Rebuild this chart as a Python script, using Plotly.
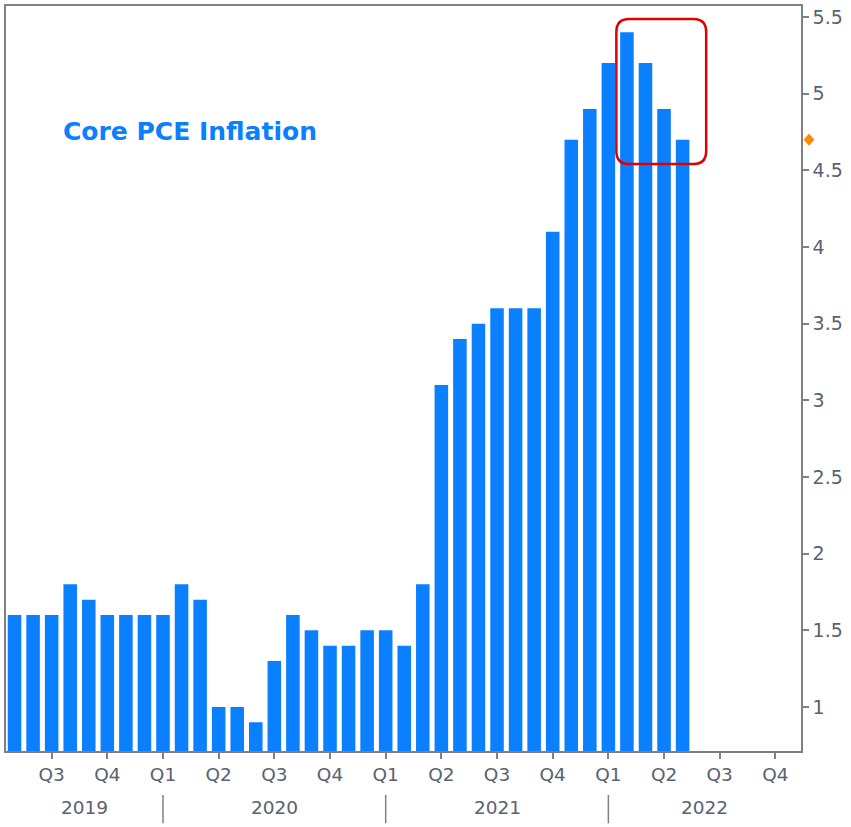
import plotly.graph_objects as go

# ---- data ----
months = ["2019-05", "2019-06", "2019-07", "2019-08", "2019-09", "2019-10", "2019-11", "2019-12",
          "2020-01", "2020-02", "2020-03", "2020-04", "2020-05", "2020-06", "2020-07", "2020-08",
          "2020-09", "2020-10", "2020-11", "2020-12", "2021-01", "2021-02", "2021-03", "2021-04",
          "2021-05", "2021-06", "2021-07", "2021-08", "2021-09", "2021-10", "2021-11", "2021-12",
          "2022-01", "2022-02", "2022-03", "2022-04", "2022-05"]
core_pce = [1.6, 1.6, 1.6, 1.8, 1.7, 1.6, 1.6, 1.6,
            1.6, 1.8, 1.7, 1.0, 1.0, 0.9, 1.3, 1.6,
            1.5, 1.4, 1.4, 1.5, 1.5, 1.4, 1.8, 3.1,
            3.4, 3.5, 3.6, 3.6, 3.6, 4.1, 4.7, 4.9,
            5.2, 5.4, 5.2, 4.9, 4.7]
quarter_labels = ["Q3", "Q4", "Q1", "Q2", "Q3", "Q4", "Q1", "Q2", "Q3", "Q4", "Q1", "Q2", "Q3", "Q4"]
year_labels = ["2019", "2020", "2021", "2022"]
y_ticks = [1, 1.5, 2, 2.5, 3, 3.5, 4, 4.5, 5, 5.5]
title_text = "Core PCE Inflation"

BLUE = "#0a80ff"
GRAY = "#808080"
TXT = "#5a6270"
FONT = "DejaVu Sans"

x_idx = list(range(len(months)))
x_min, x_max = -0.46, 42.38
y_min, y_max = 0.713, 5.572

# quarter tick positions: first month of each quarter (index 2 = Jul 2019)
q_ticks = [2 + 3 * i for i in range(len(quarter_labels))]
# year boundaries (January indices)
jan_idx = [i for i, m in enumerate(months) if m.endswith("-01")]

fig = go.Figure()
fig.add_trace(go.Bar(x=x_idx, y=core_pce, marker=dict(color=BLUE, line=dict(width=0)),
                     width=0.73, base=0, hoverinfo="y"))

# year labels centered on visible year spans
bounds = [x_min] + jan_idx + [x_max]
annotations = []
for k, yl in enumerate(year_labels):
    cx = (bounds[k] + bounds[k + 1]) / 2
    annotations.append(dict(x=cx, y=-0.0763, xref="x", yref="paper", text=yl, showarrow=False,
                            font=dict(family=FONT, size=18.5, color=TXT), xanchor="center", yanchor="middle"))
annotations.append(dict(x=0.069, y=0.831, xref="paper", yref="paper", text="<b>" + title_text + "</b>",
                        showarrow=False, xanchor="left", yanchor="middle",
                        font=dict(family=FONT, size=25, color=BLUE)))

shapes = []
for j in jan_idx:
    shapes.append(dict(type="line", xref="x", yref="paper", x0=j, x1=j, y0=-0.059, y1=-0.097,
                       line=dict(color=GRAY, width=1.5)))

# last-value marker (orange diamond) on the right axis
last = core_pce[-1]
dx, dy = 0.0068, 0.04
mx = 1.0101
shapes.append(dict(type="path", xref="paper", yref="y",
                   path=f"M {mx},{last+dy} L {mx+dx},{last} L {mx},{last-dy} L {mx-dx},{last} Z",
                   fillcolor="#ff8c00", line=dict(width=0)))

# rounded highlight rectangle around the latest readings
rx0, rx1, ry0, ry1 = 32.43, 37.27, 4.542, 5.487
cx, cy = 0.68, 0.085
path = (f"M {rx0+cx},{ry1} L {rx1-cx},{ry1} Q {rx1},{ry1} {rx1},{ry1-cy} "
        f"L {rx1},{ry0+cy} Q {rx1},{ry0} {rx1-cx},{ry0} L {rx0+cx},{ry0} "
        f"Q {rx0},{ry0} {rx0},{ry0+cy} L {rx0},{ry1-cy} Q {rx0},{ry1} {rx0+cx},{ry1} Z")
shapes.append(dict(type="path", xref="x", yref="y", path=path, line=dict(color="#e00000", width=2.5)))

fig.update_layout(
    width=851, height=827,
    margin=dict(l=5, r=50, t=4, b=76),
    paper_bgcolor="white", plot_bgcolor="white",
    showlegend=False, bargap=0.27,
    annotations=annotations, shapes=shapes,
    xaxis=dict(range=[x_min, x_max], tickvals=q_ticks, ticktext=quarter_labels,
               showgrid=False, zeroline=False, showline=True, linecolor=GRAY, linewidth=1.5, mirror=True,
               ticks="outside", ticklen=6, tickcolor=GRAY, tickwidth=1.5,
               tickfont=dict(family=FONT, size=18.5, color=TXT)),
    yaxis=dict(range=[y_min, y_max], side="right", tickvals=y_ticks,
               ticktext=[f"{v:g}" for v in y_ticks],
               showgrid=False, zeroline=False, showline=True, linecolor=GRAY, linewidth=1.5, mirror=True,
               ticks="outside", ticklen=6, tickcolor=GRAY, tickwidth=1.5,
               tickfont=dict(family=FONT, size=19, color=TXT)),
)

fig.write_html("out.html", config={"displayModeBar": False},
               post_script="document.body.style.margin='0px';")
